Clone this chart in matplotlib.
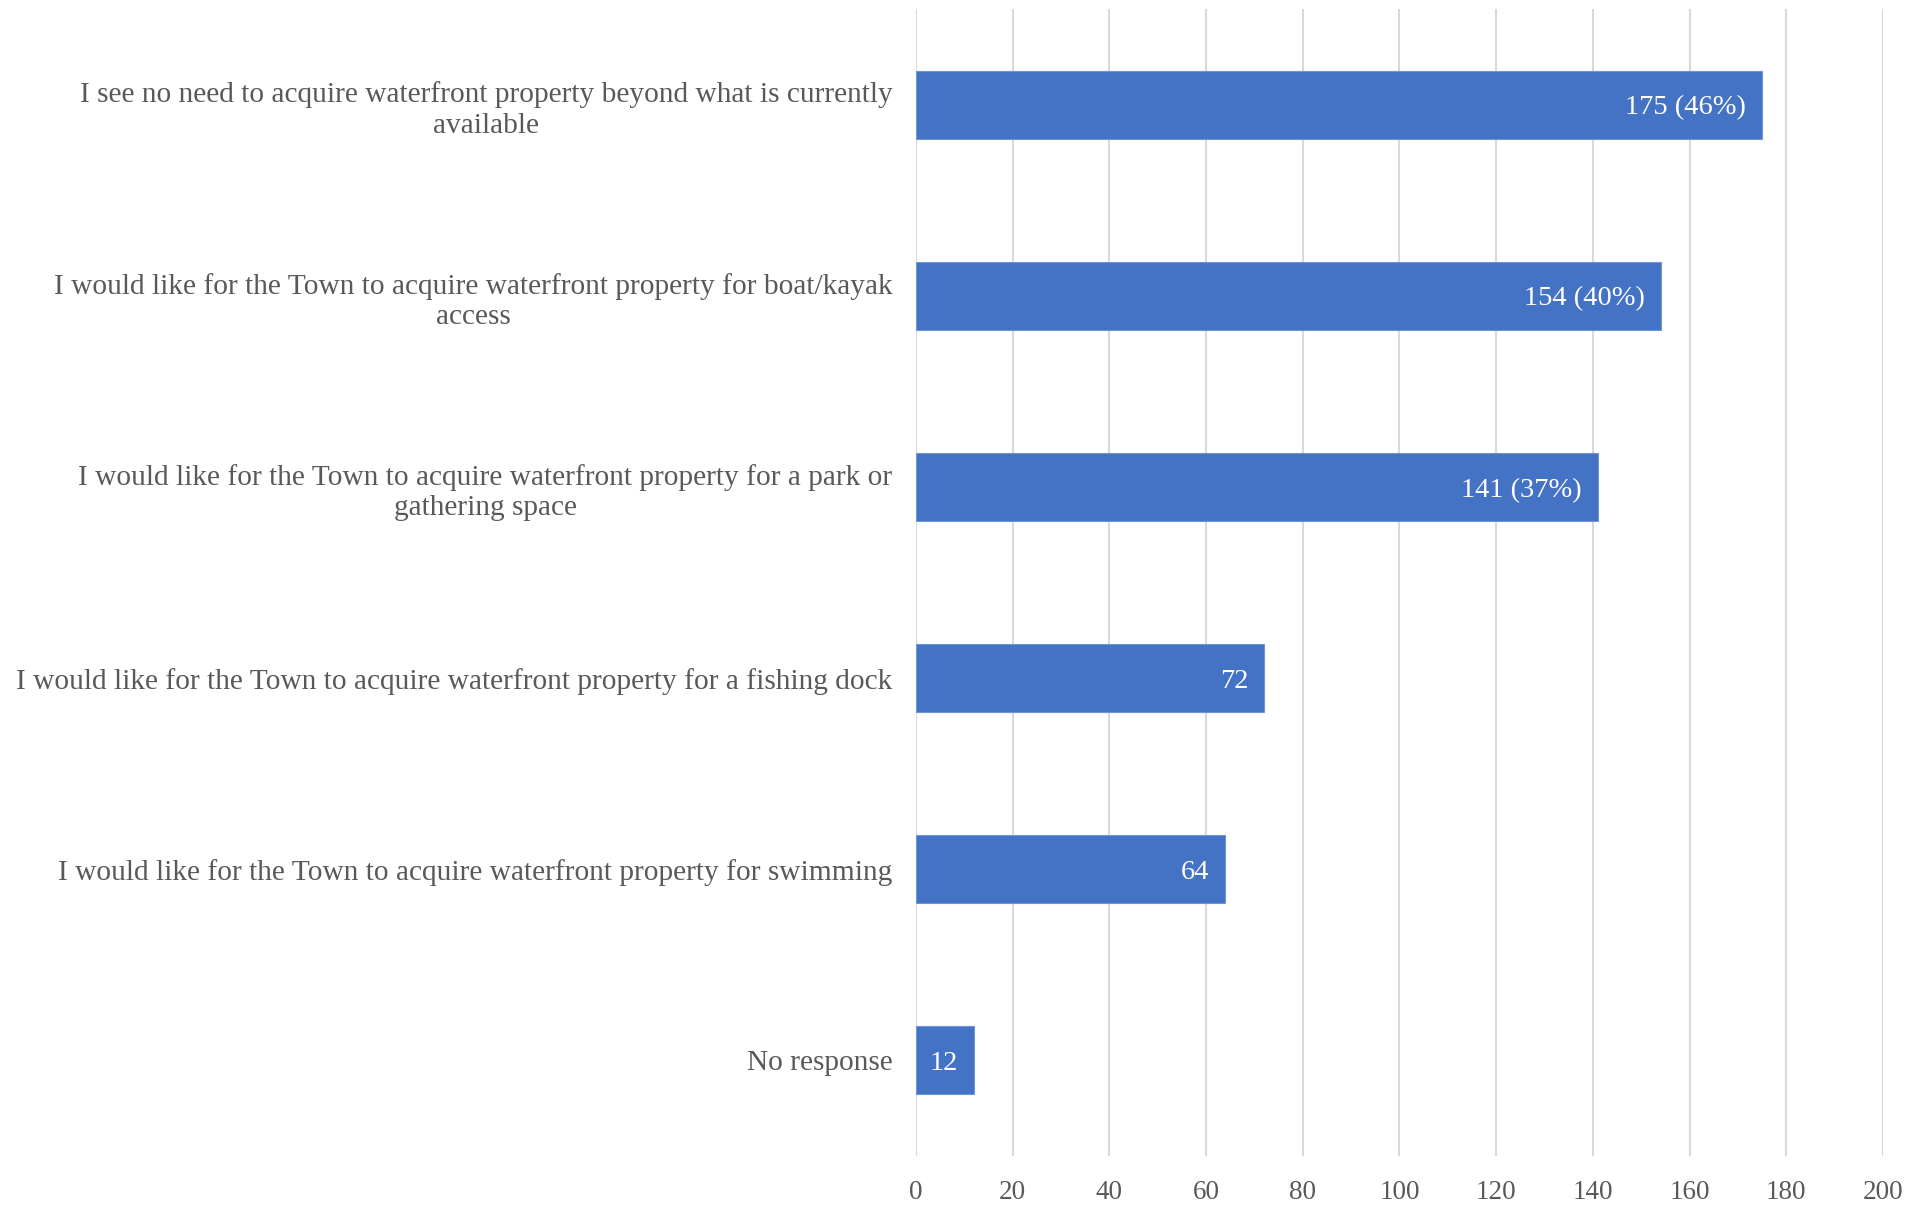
import matplotlib
matplotlib.use("Agg")
import matplotlib.pyplot as plt
from matplotlib.transforms import offset_copy

categories = [
    "I see no need to acquire waterfront property beyond what is currently\navailable",
    "I would like for the Town to acquire waterfront property for boat/kayak\naccess",
    "I would like for the Town to acquire waterfront property for a park or\ngathering space",
    "I would like for the Town to acquire waterfront property for a fishing dock",
    "I would like for the Town to acquire waterfront property for swimming",
    "No response",
]
counts = [175, 154, 141, 72, 64, 12]
value_labels = ["175 (46%)", "154 (40%)", "141 (37%)", "72", "64", "12"]
xticks = list(range(0, 201, 20))

BAR = "#4472C4"
TEXT = "#595959"
GRID = "#D9D9D9"
FONT = ["Liberation Serif", "DejaVu Serif"]

fig = plt.figure(figsize=(19.31, 12.05), dpi=100)
ax = fig.add_axes([0.4744, 0.0407, 0.5007, 0.9515])

y = list(range(len(categories)))
ax.barh(y, counts, height=0.355, color=BAR, edgecolor="#6E95D6", linewidth=0.8, zorder=3)

ax.set_xlim(0, 200)
ax.set_ylim(len(categories) - 0.5, -0.5)
ax.set_xticks(xticks)
ax.set_xticklabels([str(t) for t in xticks], family=FONT, fontsize=19.5, color=TEXT)
ax.set_yticks(y)
ax.set_yticklabels(categories, family=FONT, fontsize=21.2, color=TEXT,
                   ha="right", multialignment="center", linespacing=1.22)
ax.tick_params(axis="y", length=0, pad=17)
ax.tick_params(axis="x", length=0, pad=17)

ax.grid(axis="x", color=GRID, linewidth=1.5, zorder=0)
ax.grid(axis="y", visible=False)
for s in ax.spines.values():
    s.set_visible(False)

# value labels sit just inside the end of each bar
lbl_tr = offset_copy(ax.transData, fig=fig, x=-16, y=-3, units="dots")
for yi, v, lab in zip(y, counts, value_labels):
    ax.text(v, yi, lab, transform=lbl_tr, ha="right", va="center",
            family=FONT, fontsize=20.5, color="white", zorder=4)

fig.savefig("out.png", dpi=100, facecolor="white")
